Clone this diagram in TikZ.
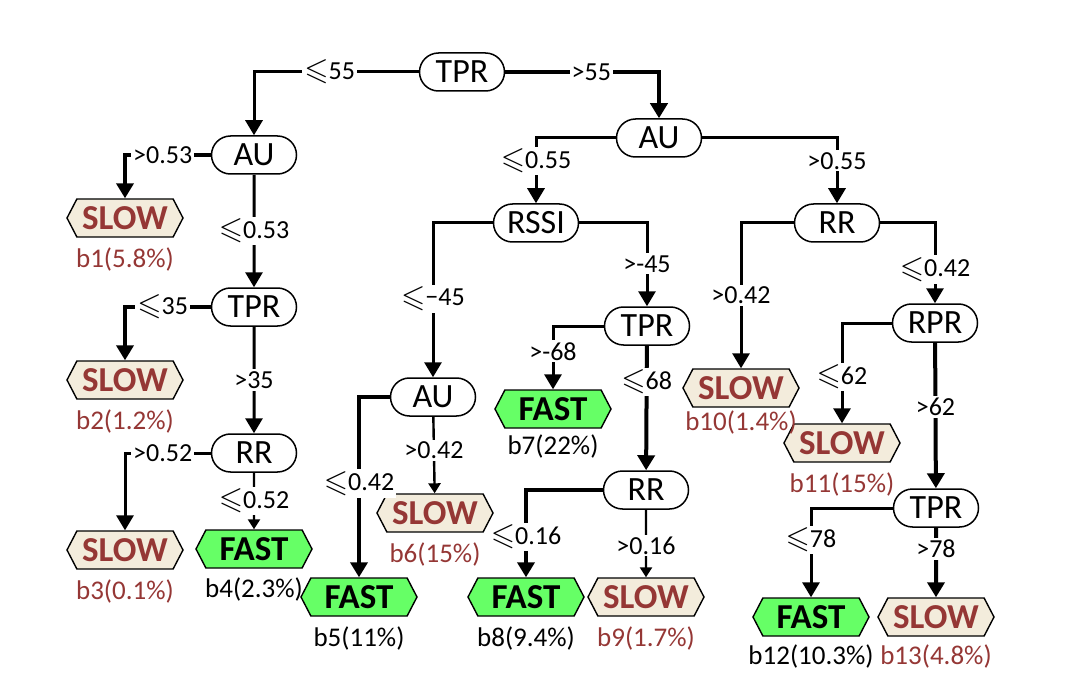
\documentclass[tikz,border=0pt]{standalone}
\usepackage{fontspec}
\usepackage{amssymb}
\setmainfont{Carlito}
\usetikzlibrary{positioning, shapes.misc, shapes.symbols, arrows.meta}

\definecolor{slowfill}{HTML}{F3ECDC}
\definecolor{slowtext}{HTML}{953735}
\definecolor{fastfill}{HTML}{66FF66}
\newcommand{\lesl}{\raisebox{-0.5pt}{\scalebox{1.2}{$\leqslant$}}}

\begin{document}
\begin{tikzpicture}[x=1pt, y=-1pt,
                    attr/.style = {rounded rectangle, draw, line width=1.5pt, minimum width=85pt, minimum height=38pt, inner sep=0pt, font=\fontsize{34}{38}\selectfont},
                    leaf/.style = {signal, signal to=west and east, signal pointer angle=125, draw=black, line width=1.4pt, minimum width=116pt, minimum height=38pt, inner sep=0pt, font=\fontsize{35}{38}\selectfont\bfseries},
                    slow/.style = {leaf, fill=slowfill, text=slowtext},
                    fast/.style = {leaf, fill=fastfill},
                    share/.style = {inner sep=0pt, font=\fontsize{27}{30}\selectfont},
                    cond/.style = {fill=white, inner sep=2pt, font=\fontsize{26}{28}\selectfont},
                    arrow/.style = {-{Triangle[length=15pt, width=17pt]}, line width=3pt},
                    heavy/.style = {arrow, line width=4pt},
                    light/.style = {-{Triangle[length=10pt, width=12pt]}, line width=2.4pt}
                ]
                \useasboundingbox (0,0) rectangle (1072,674);

                % split nodes
                \node[attr] (tpr0) at (462,72) {TPR};
                \node[attr] (au1) at (254,155) {AU};
                \node[attr] (au2) at (659,138) {AU};
                \node[attr] (tpr1) at (254,307) {TPR};
                \node[attr] (rr1) at (254,453) {RR};
                \node[attr] (rssi) at (536,223) {RSSI};
                \node[attr] (tpr2) at (647,326) {TPR};
                \node[attr] (au3) at (433,397) {AU};
                \node[attr] (rr2) at (646,490) {RR};
                \node[attr] (rr3) at (837,223) {RR};
                \node[attr] (rpr) at (935,323) {RPR};
                \node[attr] (tpr3) at (936,508) {TPR};

                % leaves
                \node[slow] (b1) at (125,218) {SLOW};
                \node[slow] (b2) at (125,380) {SLOW};
                \node[slow] (b3) at (125,550) {SLOW};
                \node[fast] (b4) at (254,549) {FAST};
                \node[fast] (b5) at (359,597) {FAST};
                \node[slow] (b6) at (435,513) {SLOW};
                \node[fast] (b7) at (553,409) {FAST};
                \node[fast] (b8) at (526,597) {FAST};
                \node[slow] (b9) at (646,597) {SLOW};
                \node[slow] (b10) at (741,388) {SLOW};
                \node[slow] (b11) at (842,443) {SLOW};
                \node[fast] (b12) at (811,617) {FAST};
                \node[slow] (b13) at (936,617) {SLOW};

                \node[share, text=slowtext, below=10pt of b1] (p1) {b1(5.8\%)};
                \node[share, text=slowtext, below=10pt of b2] (p2) {b2(1.2\%)};
                \node[share, text=slowtext, below=10pt of b3] (p3) {b3(0.1\%)};
                \node[share, below=9pt of b4] (p4) {b4(2.3\%)};
                \node[share, below=10pt of b5] (p5) {b5(11\%)};
                \node[share, text=slowtext, below=10pt of b6] (p6) {b6(15\%)};
                \node[share, below=6pt of b7] (p7) {b7(22\%)};
                \node[share, below=10pt of b8] (p8) {b8(9.4\%)};
                \node[share, text=slowtext, below=10pt of b9] (p9) {b9(1.7\%)};
                \node[share, text=slowtext, below=3pt of b10] (p10) {b10(1.4\%)};
                \node[share, text=slowtext, below=10pt of b11] (p11) {b11(15\%)};
                \node[share, below=8pt of b12] (p12) {b12(10.3\%)};
                \node[share, text=slowtext, below=8pt of b13] (p13) {b13(4.8\%)};

                \draw[arrow] (tpr0.west) -| node[cond, pos=0.27] {\lesl55} (au1.north);
                \draw[heavy] (tpr0.east) -| node[cond, pos=0.28] {>55} (au2.north);

                \draw[heavy] (au1.west) -| node[cond, pos=0.28] {>0.53} (b1.north);
                \draw[arrow] (au1) -- node[cond] {\lesl0.53} (tpr1);
                \draw[heavy] (tpr1.west) -| node[cond, pos=0.28] {\lesl35} (b2.north);
                \draw[arrow] (tpr1) -- node[cond] {>35} (rr1);
                \draw[arrow] (rr1.west) -| node[cond, pos=0.28] {>0.52} (b3.north);
                \draw[light] (rr1) -- node[cond] {\lesl0.52} (b4);

                \draw[arrow] (au2.west) -| node[cond, pos=0.675] {\lesl0.55} (rssi.north);
                \draw[arrow] (au2.east) -| node[cond, pos=0.675] {>0.55} (rr3.north);

                \draw[arrow] (rssi.west) -| node[cond, pos=0.745] {\lesl−45} (au3.north);
                \draw[arrow] (rssi.east) -| node[cond, pos=0.745] {>-45} (tpr2.north);
                \draw[arrow] (tpr2.west) -| node[cond, pos=0.7] {>-68} (b7.north);
                \draw[heavy] (tpr2) -- node[cond, pos=0.29] {\lesl68} (rr2);
                \draw[heavy] (au3.west) -| node[cond, pos=0.74] {\lesl0.42} (b5.north);
                \draw[light] (au3) -- node[cond, pos=0.44] {>0.42} (b6);
                \draw[heavy] (rr2.west) -| node[cond, pos=0.77] {\lesl0.16} (b8.north);
                \draw[light] (rr2) -- node[cond, pos=0.53] {>0.16} (b9);

                \draw[arrow] (rr3.west) -| node[cond, pos=0.75] {>0.42} (b10.north);
                \draw[arrow] (rr3.east) -| node[cond, pos=0.79] {\lesl0.42} (rpr.north);
                \draw[arrow] (rpr.west) -| node[cond, pos=0.77] {\lesl62} (b11.north);
                \draw[heavy] (rpr) -- node[cond, pos=0.44] {>62} (tpr3);
                \draw[arrow] (tpr3.west) -| node[cond, pos=0.68] {\lesl78} (b12.north);
                \draw[heavy] (tpr3) -- node[cond, pos=0.3] {>78} (b13);

            \end{tikzpicture}
\end{document}
